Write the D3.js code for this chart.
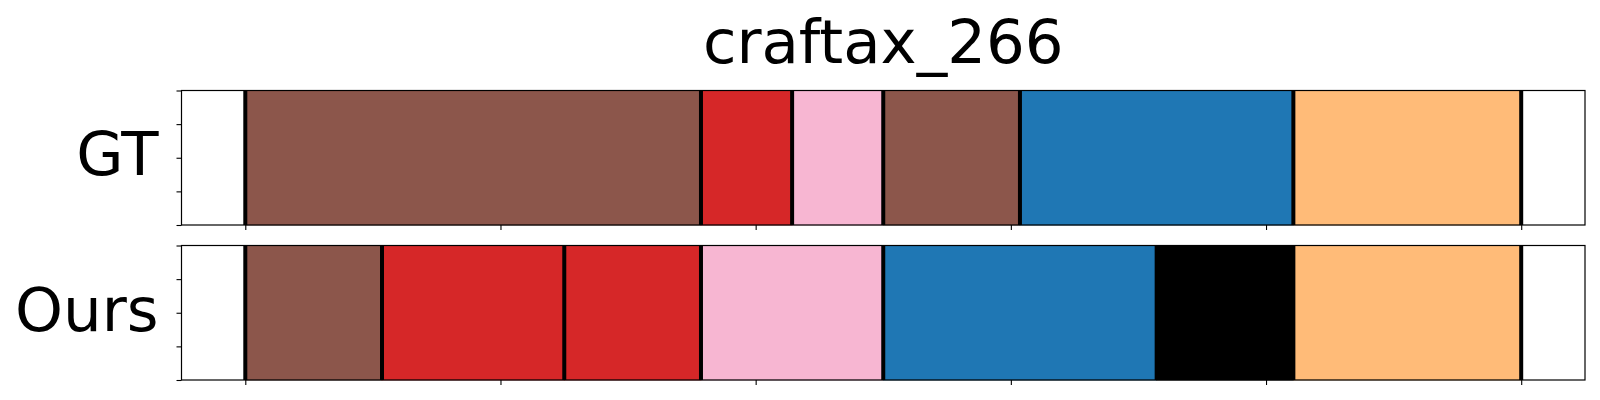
<!DOCTYPE html>
<html>
<head>
<meta charset="utf-8">
<script src="https://cdn.jsdelivr.net/npm/d3@7"></script>
<style>
  html, body { margin: 0; padding: 0; background: #fff; }
  svg { display: block; font-family: "DejaVu Sans", sans-serif; }
</style>
</head>
<body>
<svg id="chart" width="1600" height="400"></svg>
<script>
// ---- data ----
const title = "craftax_266";
const rowLabels = ["GT", "Ours"];
const gtBounds = [0, 10, 12, 14, 17, 23, 28];
const gtClasses = ["brown", "red", "pink", "brown", "blue", "orange"];
const oursBounds = [0, 3, 7, 10, 14, 20, 23, 28];
const oursClasses = ["brown", "red", "red", "pink", "blue", "black", "orange"];
const xTicks = [0, 5.6, 11.2, 16.8, 22.4, 28];
const yTicks = [0, 0.25, 0.5, 0.75, 1];
const classNames = ["brown", "red", "pink", "blue", "black", "orange"];
const classColors = ["#8c564b", "#d62728", "#f7b6d2", "#1f77b4", "#000000", "#ffbb78"];

// ---- layout ----
const svg = d3.select("#chart");
const left = 181.5, right = 1585;
const rows = [
  { label: rowLabels[0], bounds: gtBounds, classes: gtClasses, top: 90.5, bottom: 225, baseline: 175 },
  { label: rowLabels[1], bounds: oursBounds, classes: oursClasses, top: 245.5, bottom: 380, baseline: 331 }
];
const total = gtBounds[gtBounds.length - 1];
const pad = total * 0.05;
const x = d3.scaleLinear().domain([-pad, total + pad]).range([left, right]);
const color = d3.scaleOrdinal().domain(classNames).range(classColors);

svg.append("text")
  .attr("x", (left + right) / 2).attr("y", 62.5)
  .attr("text-anchor", "middle")
  .attr("font-size", 61)
  .attr("fill", "#000")
  .text(title);

rows.forEach(r => {
  const y = d3.scaleLinear().domain([0, 1]).range([r.bottom, r.top]);
  const g = svg.append("g");
  const segs = r.classes.map((c, i) => ({ c, s: r.bounds[i], e: r.bounds[i + 1] }));

  g.selectAll("rect.seg").data(segs).enter().append("rect")
    .attr("class", "seg")
    .attr("x", d => x(d.s))
    .attr("width", d => x(d.e) - x(d.s))
    .attr("y", y(1))
    .attr("height", y(0) - y(1))
    .attr("fill", d => color(d.c))
    .attr("stroke", d => d3.color(color(d.c)).darker(0.4))
    .attr("stroke-width", 0.8);

  g.selectAll("line.bound").data(r.bounds).enter().append("line")
    .attr("class", "bound")
    .attr("x1", d => x(d)).attr("x2", d => x(d))
    .attr("y1", y(0)).attr("y2", y(1))
    .attr("stroke", "#000").attr("stroke-width", 4);

  // axes
  const xAxis = d3.axisBottom(x).tickValues(xTicks).tickFormat("").tickSize(5).tickSizeOuter(0);
  const yAxis = d3.axisLeft(y).tickValues(yTicks).tickFormat("").tickSize(5).tickSizeOuter(0);
  const gx = g.append("g").attr("transform", `translate(0,${r.bottom})`).call(xAxis);
  const gy = g.append("g").attr("transform", `translate(${left},0)`).call(yAxis);
  [gx, gy].forEach(a => {
    a.select(".domain").remove();
    a.selectAll(".tick line").attr("stroke", "#000").attr("stroke-width", 1.1);
  });

  // frame (spines)
  g.append("rect")
    .attr("x", left).attr("y", r.top)
    .attr("width", right - left).attr("height", r.bottom - r.top)
    .attr("fill", "none").attr("stroke", "#000").attr("stroke-width", 1.2);

  svg.append("text")
    .attr("x", 158.5).attr("y", r.baseline)
    .attr("text-anchor", "end")
    .attr("font-size", 61)
    .attr("fill", "#000")
    .text(r.label);
});
</script>
</body>
</html>
